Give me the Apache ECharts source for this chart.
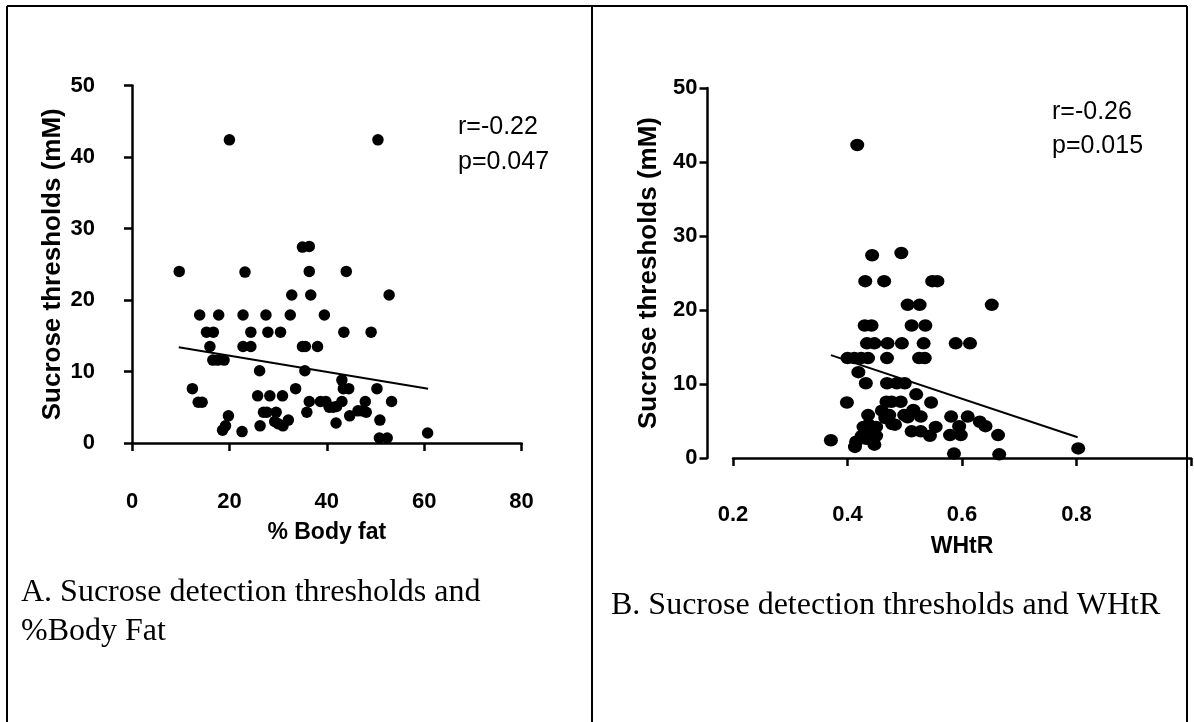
<!DOCTYPE html>
<html>
<head>
<meta charset="utf-8">
<script src="https://cdn.jsdelivr.net/npm/echarts@6/dist/echarts.min.js"></script>
<style>
html,body{margin:0;padding:0;background:#fff;}
#chart{width:1194px;height:722px;}
</style>
</head>
<body>
<div id="chart"></div>
<script>
// Panel A: % Body fat vs sucrose detection threshold (mM)
const bodyFatPoints = [
  [20.0,42.4],[50.5,42.4],
  [9.7,24.0],[23.2,23.9],[35.0,27.4],[36.4,27.5],[36.4,24.0],[44.0,24.0],
  [32.8,20.7],[36.7,20.7],[52.8,20.7],
  [13.9,17.9],[17.8,17.9],[22.8,17.9],[27.5,17.9],[32.5,17.9],[39.5,17.9],
  [15.3,15.5],[16.7,15.5],[24.4,15.5],[27.9,15.5],[30.5,15.5],[43.5,15.5],[49.1,15.5],
  [16.0,13.5],[22.8,13.5],[24.4,13.5],[35.0,13.5],[35.6,13.5],[38.1,13.5],
  [16.6,11.6],[17.6,11.6],[18.9,11.6],
  [26.2,10.1],[35.5,10.1],
  [12.4,7.6],[33.6,7.6],[43.1,8.8],[43.4,7.6],[44.5,7.6],[50.3,7.6],
  [13.6,5.7],[14.4,5.7],[25.8,6.6],[28.3,6.6],[30.9,6.6],
  [36.4,5.8],[38.7,5.8],[39.8,5.8],[43.1,5.8],[47.9,5.8],[53.3,5.8],
  [35.9,4.3],[27.0,4.3],[27.7,4.3],[29.6,4.3],[40.5,5.0],[41.3,5.0],[42.0,5.1],
  [44.7,3.8],[46.4,4.5],[48.1,4.3],[47.3,4.5],
  [19.8,3.8],[18.6,1.8],[19.2,2.4],[22.6,1.6],[26.3,2.4],[29.3,3.0],[30.0,2.7],
  [31.0,2.4],[32.1,3.2],[41.9,2.8],[50.9,3.2],[50.8,0.7],[52.4,0.7],[60.7,1.4]
];
const bodyFatFit = [[9.6,13.4],[60.8,7.6]];
const bodyFatStats = ['r=-0.22', 'p=0.047'];
const bodyFatTicks = [0, 20, 40, 60, 80];

// Panel B: WHtR vs sucrose detection threshold (mM)
const whtrPoints = [
  [0.417,42.3],
  [0.443,27.4],[0.494,27.7],
  [0.431,23.9],[0.464,23.9],[0.548,23.9],[0.557,23.9],
  [0.505,20.7],[0.526,20.7],[0.652,20.7],
  [0.430,17.9],[0.442,17.9],[0.512,17.9],[0.536,17.9],
  [0.434,15.5],[0.447,15.5],[0.470,15.5],[0.495,15.5],[0.533,15.5],[0.589,15.5],[0.614,15.5],
  [0.400,13.5],[0.412,13.5],[0.424,13.5],[0.436,13.5],[0.469,13.5],[0.525,13.5],[0.535,13.5],
  [0.419,11.6],
  [0.432,10.1],[0.469,10.1],[0.486,10.1],[0.500,10.1],
  [0.520,8.6],
  [0.399,7.5],[0.468,7.6],[0.477,7.6],[0.493,7.6],[0.546,7.5],
  [0.436,5.8],[0.460,6.4],[0.473,5.8],[0.499,5.8],[0.505,5.5],[0.515,6.5],[0.528,5.6],
  [0.581,5.6],[0.610,5.6],[0.631,4.9],[0.641,4.3],
  [0.428,4.2],[0.437,4.5],[0.450,4.2],[0.483,4.5],[0.554,4.2],[0.595,4.3],[0.466,5.4],[0.478,4.6],
  [0.512,3.6],[0.528,3.6],[0.544,3.0],[0.579,3.1],[0.598,3.1],[0.663,3.1],
  [0.425,3.0],[0.440,3.2],[0.450,3.0],[0.433,2.6],
  [0.371,2.4],[0.415,2.2],[0.447,1.8],[0.413,1.5],
  [0.586,0.6],[0.665,0.5],[0.803,1.3]
];
const whtrFit = [[0.371,13.9],[0.802,2.8]];
const whtrStats = ['r=-0.26', 'p=0.015'];
const whtrTicks = [0.2, 0.4, 0.6, 0.8];

const yTicks = [0, 10, 20, 30, 40, 50];
const yTitle = 'Sucrose thresholds (mM)';
const xTitleA = '% Body fat';
const xTitleB = 'WHtR';
const captionA = 'A. Sucrose detection thresholds and\n%Body Fat';
const captionB = 'B. Sucrose detection thresholds and WHtR';

const SANS = '"Liberation Sans", Arial, sans-serif';
const SERIF = '"Liberation Serif", "Times New Roman", serif';
const axisLine = {show: true, lineStyle: {color: '#000', width: 2.5}};
const axisTick = {show: true, length: 8, lineStyle: {color: '#000', width: 2.5}};
const tickLabel = {color: '#000', fontFamily: SANS, fontWeight: 'bold', fontSize: 22};

function yAxisCfg(gridIndex, offset, nameGap) {
  return {
    type: 'value', gridIndex, min: yTicks[0], max: yTicks[yTicks.length - 1], interval: 10,
    offset, axisLine, axisTick, splitLine: {show: false},
    axisLabel: Object.assign({margin: 10}, tickLabel),
    name: yTitle, nameLocation: 'middle', nameGap,
    nameTextStyle: {color: '#000', fontFamily: SANS, fontWeight: 'bold', fontSize: 26}
  };
}

const chart = echarts.init(document.getElementById('chart'), null, {renderer: 'canvas'});
chart.setOption({
  backgroundColor: '#fff',
  animation: false,
  grid: [
    {left: 132, top: 85.5, width: 389.6, height: 357.5},
    {left: 733, top: 88, width: 478, height: 370}
  ],
  xAxis: [
    {
      type: 'value', gridIndex: 0, min: bodyFatTicks[0], max: bodyFatTicks[bodyFatTicks.length - 1], interval: 20,
      offset: 31.5, axisLine, axisTick, splitLine: {show: false},
      axisLabel: Object.assign({margin: 16}, tickLabel),
      name: xTitleA, nameLocation: 'middle', nameGap: 47,
      nameTextStyle: {color: '#000', fontFamily: SANS, fontWeight: 'bold', fontSize: 23}
    },
    {
      type: 'value', gridIndex: 1, min: whtrTicks[0], max: 1.0, interval: 0.2,
      offset: 30, axisLine, axisTick, splitLine: {show: false},
      axisLabel: Object.assign({margin: 16, formatter: v => v > 0.95 ? '' : v.toFixed(1)}, tickLabel),
      name: xTitleB, nameLocation: 'middle', nameGap: 47,
      nameTextStyle: {color: '#000', fontFamily: SANS, fontWeight: 'bold', fontSize: 23}
    }
  ],
  yAxis: [yAxisCfg(0, 27, 39), yAxisCfg(1, 25.5, 46)],
  series: [
    {type: 'scatter', xAxisIndex: 0, yAxisIndex: 0, data: bodyFatPoints, symbol: 'circle', symbolSize: 11.5,
     itemStyle: {color: '#000', opacity: 1}, z: 3},
    {type: 'line', xAxisIndex: 0, yAxisIndex: 0, data: bodyFatFit, symbol: 'none',
     lineStyle: {color: '#000', width: 2}, z: 2},
    {type: 'scatter', xAxisIndex: 1, yAxisIndex: 1, data: whtrPoints, symbol: 'circle', symbolSize: [14, 12.5],
     itemStyle: {color: '#000', opacity: 1}, z: 3},
    {type: 'line', xAxisIndex: 1, yAxisIndex: 1, data: whtrFit, symbol: 'none',
     lineStyle: {color: '#000', width: 2}, z: 2}
  ],
  graphic: [
    {type: 'line', shape: {x1: 7, y1: 6, x2: 1187, y2: 6}, style: {stroke: '#000', lineWidth: 2}},
    {type: 'line', shape: {x1: 7, y1: 6, x2: 7, y2: 722}, style: {stroke: '#000', lineWidth: 2}},
    {type: 'line', shape: {x1: 592, y1: 6, x2: 592, y2: 722}, style: {stroke: '#000', lineWidth: 2}},
    {type: 'line', shape: {x1: 1187, y1: 6, x2: 1187, y2: 722}, style: {stroke: '#000', lineWidth: 2}},
    {type: 'text', left: 458, top: 110, style: {text: bodyFatStats.join('\n'), fill: '#000',
      font: '25px ' + SANS, lineHeight: 35}},
    {type: 'text', left: 1052, top: 95, style: {text: whtrStats.join('\n'), fill: '#000',
      font: '25px ' + SANS, lineHeight: 34}},
    {type: 'text', left: 21, top: 573, style: {text: captionA, fill: '#000',
      font: '32px ' + SERIF, lineHeight: 39}},
    {type: 'text', left: 611, top: 586, style: {text: captionB, fill: '#000',
      font: '32px ' + SERIF, lineHeight: 39}}
  ]
});
</script>
</body>
</html>
